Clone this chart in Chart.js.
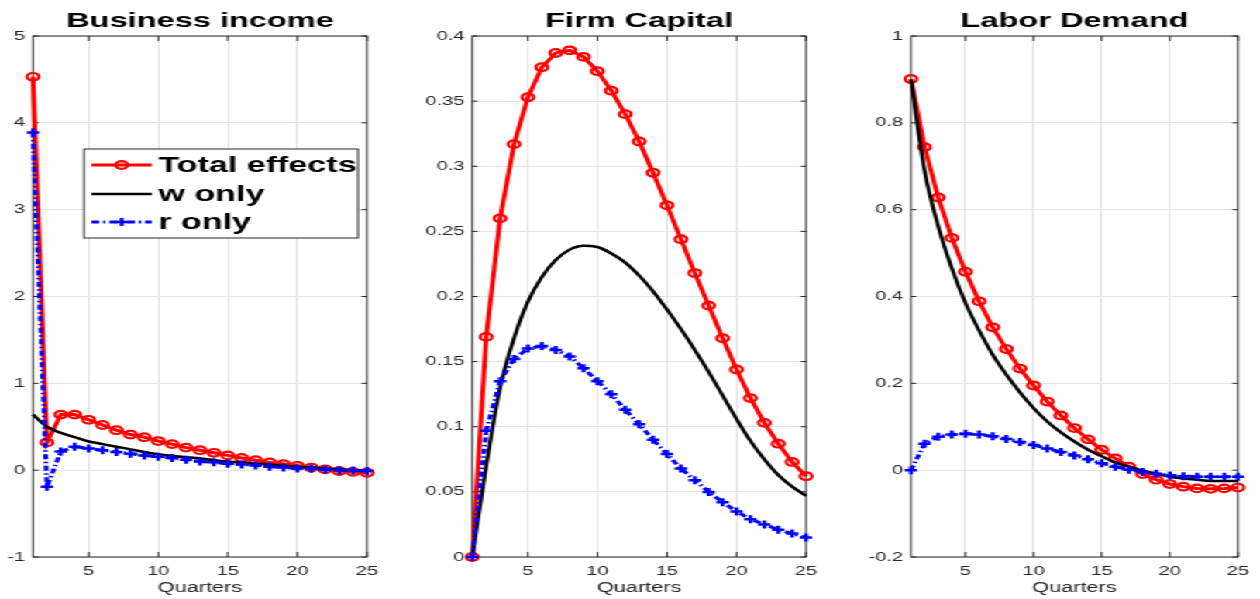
<!DOCTYPE html>
<html>
<head>
<meta charset="utf-8">
<script src="https://cdn.jsdelivr.net/npm/chart.js@4.4.0/dist/chart.umd.min.js"></script>
<style>
  html, body { margin: 0; padding: 0; background: #fff; overflow: hidden; }
  #figure { position: absolute; left: 0; top: 0; width: 813px; height: 599px;
            transform-origin: 0 0; transform: scaleX(1.5498); }
  #figure canvas { position: absolute; top: 0; }
</style>
</head>
<body>
<div id="figure">
  <canvas id="bizChart" width="271" height="599" style="left:0px"></canvas>
  <canvas id="capChart" width="271" height="599" style="left:271px"></canvas>
  <canvas id="laborChart" width="271" height="599" style="left:542px"></canvas>
</div>
<script>
// impulse responses, quarters 1..25
const quarters = [1, 2, 3, 4, 5, 6, 7, 8, 9, 10, 11, 12, 13, 14, 15, 16, 17, 18, 19, 20, 21, 22, 23, 24, 25];
const seriesNames = ['Total effects', 'w only', 'r only'];

const bizTotal = [4.53, 0.32, 0.64, 0.64, 0.58, 0.52, 0.46, 0.41, 0.38, 0.335, 0.30, 0.26, 0.23, 0.20, 0.17, 0.14, 0.115, 0.09, 0.07, 0.05, 0.03, 0.01, -0.01, -0.02, -0.03];
const bizWage = [0.64, 0.50, 0.43, 0.38, 0.33, 0.30, 0.27, 0.24, 0.21, 0.185, 0.165, 0.15, 0.135, 0.115, 0.10, 0.09, 0.075, 0.065, 0.05, 0.04, 0.03, 0.02, 0.01, 0.0, -0.01];
const bizRate = [3.89, -0.19, 0.215, 0.27, 0.25, 0.23, 0.21, 0.19, 0.17, 0.155, 0.14, 0.12, 0.10, 0.09, 0.075, 0.065, 0.055, 0.04, 0.03, 0.02, 0.015, 0.008, 0.0, -0.005, -0.01];

const capTotal = [0, 0.169, 0.26, 0.317, 0.353, 0.376, 0.387, 0.389, 0.384, 0.373, 0.358, 0.34, 0.319, 0.295, 0.27, 0.244, 0.218, 0.193, 0.168, 0.144, 0.122, 0.103, 0.087, 0.073, 0.062];
const capWage = [0, 0.07, 0.13, 0.168, 0.196, 0.215, 0.228, 0.236, 0.239, 0.238, 0.233, 0.226, 0.216, 0.204, 0.19, 0.175, 0.159, 0.142, 0.124, 0.106, 0.089, 0.075, 0.063, 0.054, 0.047];
const capRate = [0, 0.097, 0.135, 0.152, 0.16, 0.162, 0.159, 0.154, 0.145, 0.135, 0.125, 0.113, 0.102, 0.09, 0.079, 0.068, 0.059, 0.05, 0.042, 0.035, 0.029, 0.025, 0.021, 0.018, 0.015];

const laborTotal = [0.901, 0.744, 0.628, 0.535, 0.457, 0.389, 0.329, 0.279, 0.234, 0.195, 0.158, 0.126, 0.097, 0.071, 0.047, 0.027, 0.008, -0.009, -0.022, -0.032, -0.038, -0.042, -0.043, -0.042, -0.04];
const laborWage = [0.90, 0.69, 0.562, 0.465, 0.385, 0.322, 0.266, 0.22, 0.179, 0.143, 0.112, 0.087, 0.066, 0.047, 0.032, 0.018, 0.008, -0.001, -0.008, -0.015, -0.019, -0.022, -0.025, -0.025, -0.025];
const laborRate = [0, 0.061, 0.077, 0.082, 0.084, 0.082, 0.078, 0.072, 0.065, 0.058, 0.05, 0.042, 0.034, 0.025, 0.016, 0.008, 0.001, -0.004, -0.008, -0.012, -0.014, -0.015, -0.015, -0.015, -0.015];

const xTicks = [5, 10, 15, 20, 25];
const bizTicks = [-1, 0, 1, 2, 3, 4, 5];
const capTicks = [0, 0.05, 0.1, 0.15, 0.2, 0.25, 0.3, 0.35, 0.4];
const laborTicks = [-0.2, 0, 0.2, 0.4, 0.6, 0.8, 1];

const FONT = '"Liberation Sans", Arial, Helvetica, sans-serif';
const AXIS = '#262626';
const GRID = '#e3e3e3';

Chart.defaults.font.family = FONT;

function toPoints(vals) {
  return quarters.map((q, i) => ({ x: q, y: vals[i] }));
}

function lines(total, wage, rate) {
  return [
    { label: seriesNames[0], data: toPoints(total), borderColor: '#ff0000', borderWidth: 3,
      pointStyle: 'circle', pointRadius: 3.8, pointBorderWidth: 2.2,
      pointBorderColor: '#ff0000', pointBackgroundColor: 'rgba(0,0,0,0)', order: 3 },
    { label: seriesNames[1], data: toPoints(wage), borderColor: '#000000', borderWidth: 2.5,
      pointRadius: 0, cubicInterpolationMode: 'monotone', order: 2 },
    { label: seriesNames[2], data: toPoints(rate), borderColor: '#0000ff', borderWidth: 3,
      borderDash: [5, 2.5, 1.5, 2.5], pointStyle: 'cross', pointRadius: 4, pointBorderWidth: 2.5,
      pointBorderColor: '#0000ff', order: 1 }
  ];
}

function fmt(v) {
  return String(parseFloat(Number(v).toFixed(4)));
}

// axes box, inward tick marks, title and the in-axes legend
const frame = {
  id: 'frame',
  beforeDatasetsDraw(chart, args, opts) {
    const { ctx, chartArea: a, scales: { x, y } } = chart;
    ctx.save();
    ctx.strokeStyle = AXIS;
    ctx.lineWidth = 1;
    ctx.strokeRect(a.left, a.top, a.right - a.left, a.bottom - a.top);
    ctx.beginPath();
    xTicks.forEach(v => {
      const px = x.getPixelForValue(v);
      ctx.moveTo(px, a.bottom); ctx.lineTo(px, a.bottom - 5);
      ctx.moveTo(px, a.top); ctx.lineTo(px, a.top + 5);
    });
    y.ticks.forEach(t => {
      const py = y.getPixelForValue(t.value);
      ctx.moveTo(a.left, py); ctx.lineTo(a.left + 3.5, py);
      ctx.moveTo(a.right, py); ctx.lineTo(a.right - 3.5, py);
    });
    ctx.stroke();
    ctx.restore();
  },
  afterDraw(chart, args, opts) {
    const { ctx, chartArea: a } = chart;
    ctx.save();
    ctx.fillStyle = '#000';
    ctx.font = 'bold 21px ' + FONT;
    ctx.textAlign = 'center';
    ctx.textBaseline = 'alphabetic';
    ctx.fillText(opts.title, (a.left + a.right) / 2, 27);

    if (opts.legend) {
      const bx = 54.2, by = 149, bw = 176.8, bh = 89;
      ctx.fillStyle = '#fff';
      ctx.fillRect(bx, by, bw, bh);
      ctx.strokeStyle = AXIS;
      ctx.lineWidth = 1;
      ctx.strokeRect(bx, by, bw, bh);
      const rows = [165, 194, 222];
      chart.data.datasets.forEach((ds, i) => {
        const ry = rows[i];
        ctx.strokeStyle = ds.borderColor;
        ctx.lineWidth = ds.borderWidth;
        ctx.setLineDash(ds.borderDash || []);
        ctx.beginPath();
        ctx.moveTo(59.1, ry); ctx.lineTo(97.9, ry);
        ctx.stroke();
        ctx.setLineDash([]);
        if (ds.pointRadius > 0) {
          ctx.fillStyle = 'rgba(0,0,0,0)';
          ctx.lineWidth = ds.pointBorderWidth;
          Chart.helpers.drawPoint(ctx, { pointStyle: ds.pointStyle, rotation: 0,
            radius: ds.pointRadius, borderWidth: ds.pointBorderWidth }, 78.5, ry);
        }
        ctx.fillStyle = '#000';
        ctx.font = 'bold 22px ' + FONT;
        ctx.textAlign = 'left';
        ctx.textBaseline = 'middle';
        ctx.fillText(ds.label, 102.2, ry + 1);
      });
    }
    ctx.restore();
  }
};

function makePanel(id, title, datasets, yMin, yMax, yTicks, axisW, padRight, legend) {
  return new Chart(document.getElementById(id), {
    type: 'line',
    data: { datasets: datasets.map(d => Object.assign({ clip: false, tension: 0, fill: false }, d)) },
    options: {
      responsive: false,
      animation: false,
      events: [],
      layout: { padding: { top: 36, right: padRight, left: 0, bottom: 0 } },
      plugins: {
        legend: { display: false },
        tooltip: { enabled: false },
        frame: { title: title, legend: legend }
      },
      scales: {
        x: {
          type: 'linear', min: 1, max: 25,
          afterBuildTicks: s => { s.ticks = xTicks.map(v => ({ value: v })); },
          afterFit: s => { s.height = 42; },
          grid: { color: GRID, drawTicks: false, lineWidth: 1 },
          border: { display: false },
          ticks: { color: AXIS, font: { size: 13 }, padding: 7, maxRotation: 0, callback: fmt },
          title: { display: true, text: 'Quarters', color: AXIS, font: { size: 14 },
                   padding: { top: 0, bottom: 2 } }
        },
        y: {
          min: yMin, max: yMax,
          afterBuildTicks: s => { s.ticks = yTicks.map(v => ({ value: v })); },
          afterFit: s => { s.width = axisW; },
          grid: { color: GRID, drawTicks: false, lineWidth: 1 },
          border: { display: false },
          ticks: { color: AXIS, font: { size: 13 }, padding: 5, callback: fmt }
        }
      }
    },
    plugins: [frame]
  });
}

makePanel('bizChart', 'Business income', lines(bizTotal, bizWage, bizRate), -1, 5, bizTicks, 21.3, 34.2, true);
makePanel('capChart', 'Firm Capital', lines(capTotal, capWage, capRate), 0, 0.4, capTicks, 33.75, 21.9, false);
makePanel('laborChart', 'Labor Demand', lines(laborTotal, laborWage, laborRate), -0.2, 1, laborTicks, 45.8, 9.7, false);
</script>
</body>
</html>
